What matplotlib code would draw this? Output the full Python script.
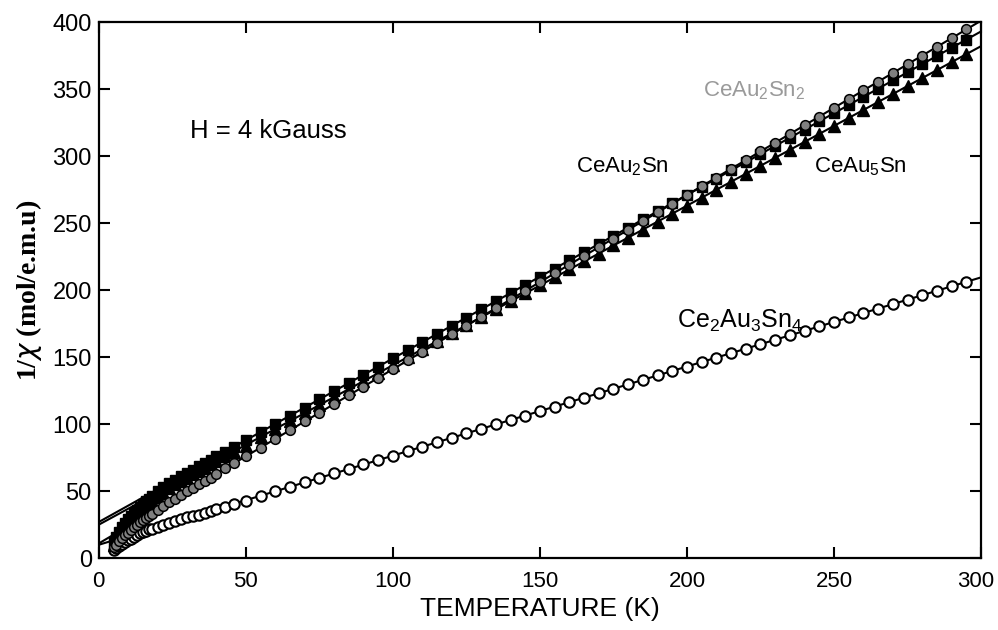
import matplotlib
matplotlib.use("Agg")
import matplotlib.pyplot as plt
from matplotlib.transforms import ScaledTranslation

# measured temperatures (K)
T = [5, 6, 7, 8, 9, 10, 11, 12, 13, 14, 15, 16, 17, 18, 20, 22, 24, 26, 28, 30,
     32, 34, 36, 38, 40, 43, 46, 50,
     55, 60, 65, 70, 75, 80, 85, 90, 95, 100, 105, 110, 115, 120, 125, 130, 135,
     140, 145, 150, 155, 160, 165, 170, 175, 180, 185, 190, 195, 200, 205, 210,
     215, 220, 225, 230, 235, 240, 245, 250, 255, 260, 265, 270, 275, 280, 285,
     290, 295]

# 1/chi (mol/e.m.u)
ceau2sn2 = [8, 10, 12.5, 15, 17, 19, 21, 23, 25, 27, 28.5, 30, 31.5, 33, 36, 39, 42, 44.5, 47.5, 50,
            52.5, 55, 57.5, 60, 63, 67, 71, 76,
            82.5, 89, 95.5, 102, 108.5, 115, 121.5, 128, 134.5, 141, 147.5, 154, 160.5, 167, 173.5,
            180, 186.5, 193, 199.5, 206, 212.5, 219, 225.5, 232, 238.5, 245, 251.5, 258, 264.5,
            271, 277.5, 284, 290.5, 297, 303.5, 310, 316.5, 323, 329.5, 336, 342.5, 349, 355.5,
            362, 368.5, 375, 381.5, 388, 394.5]
ceau2sn = [12, 16, 19.5, 23, 26, 29, 31.5, 34, 36, 38.5, 40.5, 42.5, 44.5, 46.5, 50, 53, 56, 58.5, 61, 63.5,
           66, 68.5, 71, 73.5, 76, 79.5, 83, 88,
           94.1, 100.2, 106.3, 112.4, 118.5, 124.6, 130.7, 136.8, 142.9, 149, 155.1, 161.2, 167.3,
           173.4, 179.5, 185.6, 191.7, 197.8, 203.9, 210, 216.1, 222.2, 228.3, 234.4, 240.5, 246.6,
           252.7, 258.8, 264.9, 271, 277.1, 283.2, 289.3, 295.4, 301.5, 307.6, 313.7, 319.8, 325.9,
           332, 338.1, 344.2, 350.3, 356.4, 362.5, 368.6, 374.7, 380.8, 386.9]
ceau5sn = [10, 13.5, 17, 20, 23, 25.5, 28, 30.5, 32.5, 34.5, 36.5, 38.5, 40.5, 42.5, 46, 49, 52, 55, 57.5, 60,
           62.5, 65, 67.5, 70, 72.5, 76, 79.5, 84,
           90.5, 96.4, 102.4, 108.3, 114.3, 120.2, 126.2, 132.1, 138.1, 144, 150, 155.9, 161.9,
           167.8, 173.8, 179.7, 185.7, 191.6, 197.6, 203.5, 209.5, 215.4, 221.4, 227.3, 233.3,
           239.2, 245.2, 251.1, 257.1, 263, 269, 274.9, 280.9, 286.8, 292.8, 298.7, 304.7, 310.6,
           316.6, 322.5, 328.5, 334.4, 340.4, 346.3, 352.3, 358.2, 364.2, 370.1, 376.1]
ce2au3sn4 = [6, 7.5, 9, 10.5, 12, 13.5, 14.5, 16, 17, 18.5, 19.5, 20.5, 21.5, 22, 23.5, 25, 26.5, 27.5, 29, 30.5,
             31.5, 32.5, 34, 35, 36.5, 38.5, 40.5, 43,
             46.6, 49.9, 53.2, 56.6, 59.9, 63.2, 66.5, 69.9, 73.2, 76.5, 79.8, 83.2, 86.5, 89.8,
             93.1, 96.5, 99.8, 103.1, 106.4, 109.8, 113.1, 116.4, 119.7, 123.1, 126.4, 129.7, 133,
             136.4, 139.7, 143, 146.3, 149.7, 153, 156.3, 159.6, 163, 166.3, 169.6, 172.9, 176.3,
             179.6, 182.9, 186.2, 189.6, 192.9, 196.2, 199.5, 202.9, 206.2]

# Curie-Weiss fit lines: value at T=0 and at T=300
fit_T = [0, 300]
fit_ceau2sn2 = [11, 401]
fit_ceau2sn = [27, 393]
fit_ceau5sn = [25, 382]
fit_ce2au3sn4 = [10, 209.5]

fig = plt.figure(figsize=(9.98, 6.3), dpi=100)
ax = fig.add_axes([0.099, 0.114, 0.884, 0.851])

for f in [fit_ceau2sn2, fit_ceau2sn, fit_ceau5sn, fit_ce2au3sn4]:
    ax.plot(fit_T, f, color="black", lw=1.5, zorder=2)

ax.plot(T, ce2au3sn4, "o", ms=7.5, mfc="white", mec="black", mew=1.5, ls="none", zorder=3)
ax.plot(T, ceau5sn, "^", ms=8, mfc="black", mec="black", ls="none", zorder=3)
ax.plot(T, ceau2sn, "s", ms=7, mfc="black", mec="black", ls="none", zorder=3)
ax.plot(T, ceau2sn2, "o", ms=7, mfc="#808080", mec="black", mew=1.1, ls="none", zorder=4)

ax.set_xlim(0, 300)
ax.set_ylim(0, 400)
ax.set_xticks([0, 50, 100, 150, 200, 250, 300])
ax.set_yticks([0, 50, 100, 150, 200, 250, 300, 350, 400])
ax.tick_params(direction="in", length=8, width=1.5, top=True, right=True,
               labelsize=17)
ax.tick_params(axis="y", pad=5)
ax.tick_params(axis="x", pad=9, labelsize=16)
for lab in ax.get_xticklabels() + ax.get_yticklabels():
    lab.set_family("Liberation Sans")
# keep the last x label inside the picture
last = ax.get_xticklabels()[-1]
last.set_transform(last.get_transform() + ScaledTranslation(-5 / 100, 0, fig.dpi_scale_trans))
for s in ax.spines.values():
    s.set_linewidth(1.6)

ax.set_xlabel("TEMPERATURE (K)", fontsize=19, family="Liberation Sans", labelpad=4)
ax.set_ylabel(r"1/$\chi$ (mol/e.m.u)", fontsize=20, family="Liberation Serif",
              fontweight="bold", labelpad=6)

ax.text(57.5, 319, "H = 4 kGauss", fontsize=18.5, family="Liberation Sans", ha="center", va="center")
ax.text(223, 349, r"CeAu$_\mathregular{2}$Sn$_\mathregular{2}$", fontsize=16, color="#9a9a9a",
        family="Liberation Sans", ha="center", va="center")
ax.text(178, 292, r"CeAu$_\mathregular{2}$Sn", fontsize=16, family="Liberation Sans",
        ha="center", va="center")
ax.text(259, 292, r"CeAu$_\mathregular{5}$Sn", fontsize=16, family="Liberation Sans",
        ha="center", va="center")
ax.text(218, 177, r"Ce$_\mathregular{2}$Au$_\mathregular{3}$Sn$_\mathregular{4}$", fontsize=18,
        family="Liberation Sans", ha="center", va="center")

fig.savefig("out.png", dpi=100)
